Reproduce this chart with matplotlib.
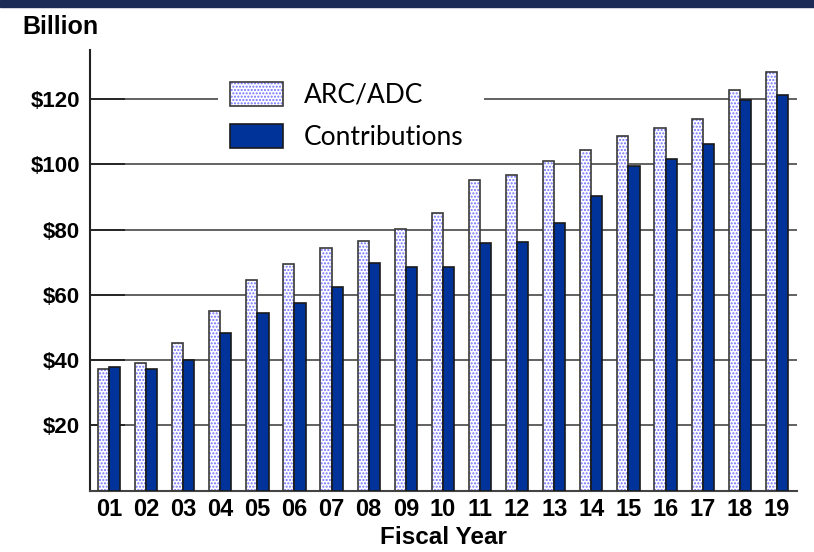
import matplotlib.pyplot as plt
from matplotlib.patches import Patch, Rectangle
import numpy as np

# Fiscal years and amounts ($ billion)
years = ['01', '02', '03', '04', '05', '06', '07', '08', '09', '10',
         '11', '12', '13', '14', '15', '16', '17', '18', '19']
arc_adc = [37.4, 39.0, 45.2, 55.2, 64.7, 69.4, 74.3, 76.5, 80.2, 85.2,
           95.1, 96.8, 100.9, 104.5, 108.6, 111.2, 113.9, 122.8, 128.3]
contributions = [37.8, 37.3, 40.1, 48.2, 54.5, 57.4, 62.4, 69.7, 68.5, 68.7,
                 75.9, 76.3, 82.2, 90.3, 99.4, 101.7, 106.2, 119.6, 121.2]
yticks = [20, 40, 60, 80, 100, 120]

plt.rcParams['font.family'] = ['Liberation Sans', 'DejaVu Sans']

fig = plt.figure(figsize=(8.14, 5.52), dpi=100)
ax = fig.add_axes([0.1106, 0.111, 0.8684, 0.798])

x = np.arange(len(years))
w = 0.3
dot_blue = '#7070ff'
navy = '#003399'
edge = '#3a3a3a'

# ARC/ADC: white bars with fine blue dots, then a dark outline on top
ax.bar(x - w / 2, arc_adc, w, facecolor='white', edgecolor=dot_blue,
       hatch='.....', linewidth=0, zorder=2)
ax.bar(x - w / 2, arc_adc, w, fill=False, edgecolor=edge, linewidth=1.2,
       zorder=3)
# Contributions: solid navy bars
ax.bar(x + w / 2, contributions, w, color=navy, edgecolor='#1a1a1a',
       linewidth=1.2, zorder=3)

ax.set_xlim(-0.51, 18.54)
ax.set_ylim(0, 135)
ax.set_xticks(x)
ax.set_xticklabels(years, fontsize=17, fontweight='bold')
ax.set_yticks(yticks)
ax.set_yticklabels(['$%d' % v for v in yticks], fontsize=16,
                   fontweight='bold')
ax.tick_params(axis='x', length=0, pad=5)
ax.tick_params(axis='y', direction='in', length=25, width=1.3,
               color='#222222', pad=7)

ax.yaxis.grid(True, color='#555555', linewidth=1.3, zorder=0)
ax.set_axisbelow(True)
for s in ['top', 'right']:
    ax.spines[s].set_visible(False)
ax.spines['left'].set_linewidth(1.5)
ax.spines['left'].set_color('#222222')
ax.spines['bottom'].set_linewidth(1.5)
ax.spines['bottom'].set_color('#444444')

ax.set_xlabel('Fiscal Year', fontsize=17.5, fontweight='bold', labelpad=4)

# Legend with solid white box over the grid lines
arc_handle = (Patch(facecolor='white', edgecolor=dot_blue, hatch='.....',
                    linewidth=0),
              Patch(fill=False, edgecolor=edge, linewidth=1.2))
con_handle = Patch(facecolor=navy, edgecolor='#1a1a1a', linewidth=1.2)
leg = ax.legend([arc_handle, con_handle], ['ARC/ADC', 'Contributions'],
                loc='upper left', bbox_to_anchor=(0.181, 0.732, 0.376, 0.223),
                mode='expand', borderaxespad=0, borderpad=0.45,
                handlelength=2.0, handleheight=1.0, handletextpad=0.8,
                labelspacing=0.62, frameon=True, fancybox=False,
                prop={'family': 'Lato', 'size': 19})
leg.get_frame().set_facecolor('white')
leg.get_frame().set_edgecolor('none')
leg.get_frame().set_alpha(1)

fig.text(0.027, 0.951, 'Billion', fontsize=18, fontweight='bold',
         va='center', ha='left')

# Dark banner strip along the top edge
fig.add_artist(Rectangle((0, 1 - 7 / 552), 1, 7 / 552,
                         transform=fig.transFigure, color='#1c2a56',
                         zorder=5))

fig.savefig('out.png', dpi=100)
